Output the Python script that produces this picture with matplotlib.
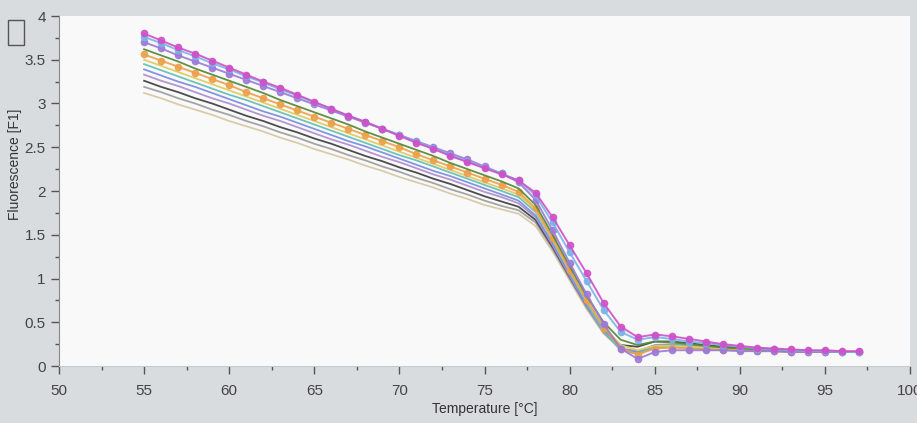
import matplotlib
matplotlib.use("Agg")
import matplotlib.pyplot as plt
from matplotlib.ticker import MultipleLocator, FormatStrFormatter
from matplotlib.patches import Rectangle

plt.rcParams['font.family'] = ['Liberation Sans', 'DejaVu Sans']

# Temperature grid (°C)
temperature = list(range(55, 98))

# Fluorescence curves (F1), one per sample
s_magenta = [3.80, 3.72, 3.64, 3.57, 3.49, 3.41, 3.33, 3.25, 3.18, 3.10, 3.02, 2.94, 2.86, 2.79, 2.71, 2.63, 2.55, 2.48, 2.40, 2.33, 2.26,
             2.19, 2.12, 1.98, 1.70, 1.38, 1.06, 0.72, 0.45, 0.33, 0.36, 0.34, 0.31, 0.28, 0.25, 0.23, 0.21, 0.20, 0.19, 0.18, 0.18, 0.17, 0.17]
s_lightblue = [3.76, 3.69, 3.61, 3.54, 3.46, 3.39, 3.31, 3.24, 3.16, 3.09, 3.01, 2.94, 2.86, 2.79, 2.71, 2.64, 2.56, 2.49, 2.41, 2.34, 2.27,
               2.20, 2.12, 1.95, 1.64, 1.30, 0.97, 0.64, 0.39, 0.30, 0.33, 0.31, 0.28, 0.26, 0.24, 0.22, 0.20, 0.19, 0.18, 0.17, 0.17, 0.16, 0.16]
s_violet = [3.70, 3.63, 3.55, 3.48, 3.41, 3.34, 3.27, 3.20, 3.13, 3.06, 2.99, 2.92, 2.85, 2.78, 2.71, 2.64, 2.57, 2.50, 2.43, 2.36, 2.28,
            2.20, 2.10, 1.90, 1.55, 1.18, 0.82, 0.48, 0.20, 0.08, 0.16, 0.18, 0.18, 0.18, 0.18, 0.17, 0.17, 0.17, 0.16, 0.16, 0.16, 0.16, 0.16]
s_green = [3.62, 3.55, 3.48, 3.40, 3.33, 3.26, 3.19, 3.12, 3.04, 2.97, 2.90, 2.83, 2.76, 2.68, 2.61, 2.54, 2.47, 2.40, 2.32, 2.25, 2.18,
           2.11, 2.03, 1.84, 1.50, 1.14, 0.80, 0.50, 0.30, 0.24, 0.28, 0.27, 0.25, 0.23, 0.21, 0.20, 0.19, 0.18, 0.17, 0.17, 0.16, 0.16, 0.16]
s_orange = [3.56, 3.49, 3.42, 3.35, 3.28, 3.21, 3.13, 3.06, 2.99, 2.92, 2.85, 2.78, 2.71, 2.64, 2.57, 2.50, 2.42, 2.35, 2.28, 2.21, 2.14,
            2.07, 1.99, 1.80, 1.46, 1.10, 0.76, 0.44, 0.20, 0.13, 0.20, 0.21, 0.20, 0.19, 0.18, 0.18, 0.17, 0.17, 0.16, 0.16, 0.16, 0.16, 0.16]
s_yellow = [3.50, 3.43, 3.36, 3.29, 3.22, 3.15, 3.08, 3.01, 2.94, 2.87, 2.80, 2.73, 2.66, 2.59, 2.52, 2.45, 2.38, 2.31, 2.24, 2.17, 2.10,
            2.03, 1.96, 1.78, 1.45, 1.09, 0.75, 0.45, 0.24, 0.18, 0.23, 0.23, 0.22, 0.21, 0.20, 0.19, 0.18, 0.17, 0.17, 0.16, 0.16, 0.16, 0.16]
s_teal = [3.45, 3.38, 3.31, 3.24, 3.17, 3.10, 3.04, 2.97, 2.90, 2.83, 2.76, 2.69, 2.62, 2.55, 2.48, 2.41, 2.35, 2.28, 2.21, 2.14, 2.07,
          2.00, 1.93, 1.76, 1.44, 1.08, 0.72, 0.40, 0.18, 0.14, 0.22, 0.24, 0.23, 0.22, 0.20, 0.19, 0.18, 0.18, 0.17, 0.17, 0.16, 0.16, 0.16]
s_blue = [3.39, 3.32, 3.25, 3.19, 3.12, 3.05, 2.98, 2.91, 2.85, 2.78, 2.71, 2.64, 2.57, 2.51, 2.44, 2.37, 2.30, 2.23, 2.17, 2.10, 2.03,
          1.96, 1.89, 1.72, 1.40, 1.05, 0.70, 0.40, 0.20, 0.16, 0.23, 0.24, 0.23, 0.21, 0.20, 0.19, 0.18, 0.17, 0.17, 0.16, 0.16, 0.16, 0.16]
s_purple = [3.33, 3.26, 3.20, 3.13, 3.06, 3.00, 2.93, 2.86, 2.80, 2.73, 2.66, 2.59, 2.53, 2.46, 2.39, 2.33, 2.26, 2.19, 2.13, 2.06, 1.99,
            1.93, 1.86, 1.70, 1.38, 1.03, 0.69, 0.39, 0.19, 0.14, 0.21, 0.22, 0.21, 0.20, 0.19, 0.18, 0.17, 0.17, 0.16, 0.16, 0.16, 0.16, 0.16]
s_black = [3.26, 3.19, 3.13, 3.06, 3.00, 2.93, 2.86, 2.80, 2.73, 2.67, 2.60, 2.54, 2.47, 2.40, 2.34, 2.27, 2.21, 2.14, 2.08, 2.01, 1.94,
           1.88, 1.82, 1.67, 1.36, 1.02, 0.69, 0.41, 0.24, 0.22, 0.28, 0.28, 0.26, 0.24, 0.22, 0.21, 0.20, 0.19, 0.18, 0.17, 0.17, 0.16, 0.16]
s_gray = [3.19, 3.13, 3.06, 3.00, 2.93, 2.87, 2.80, 2.74, 2.67, 2.61, 2.54, 2.48, 2.41, 2.35, 2.28, 2.22, 2.15, 2.09, 2.02, 1.96, 1.89,
          1.83, 1.78, 1.64, 1.34, 1.00, 0.67, 0.38, 0.20, 0.17, 0.24, 0.25, 0.24, 0.22, 0.21, 0.20, 0.19, 0.18, 0.17, 0.17, 0.16, 0.16, 0.16]
s_tan = [3.12, 3.06, 2.99, 2.93, 2.87, 2.80, 2.74, 2.68, 2.61, 2.55, 2.48, 2.42, 2.36, 2.29, 2.23, 2.16, 2.10, 2.04, 1.97, 1.91, 1.84,
         1.79, 1.74, 1.60, 1.31, 0.98, 0.65, 0.37, 0.19, 0.16, 0.22, 0.23, 0.22, 0.21, 0.20, 0.19, 0.18, 0.17, 0.17, 0.16, 0.16, 0.16, 0.16]

series = [
    (s_tan, '#d8c8a8', None),
    (s_gray, '#a0a0a0', None),
    (s_black, '#444444', None),
    (s_purple, '#b090d0', None),
    (s_blue, '#7f8fe0', None),
    (s_teal, '#66c0b8', None),
    (s_yellow, '#e0cc60', None),
    (s_orange, '#eda04a', 'o'),
    (s_green, '#5a8a3a', None),
    (s_violet, '#9c7ad8', 'o'),
    (s_lightblue, '#78b4e8', 'o'),
    (s_magenta, '#d050c8', 'o'),
]

x_ticks = [50, 55, 60, 65, 70, 75, 80, 85, 90, 95, 100]
y_ticks = [0, 0.5, 1, 1.5, 2, 2.5, 3, 3.5, 4]

fig = plt.figure(figsize=(9.17, 4.23), dpi=100, facecolor='#d8dcdf')
ax = fig.add_axes([59 / 917, 1 - 366 / 423, 851 / 917, 350 / 423])
ax.set_facecolor('#f9f9f9')

for vals, col, mk in series:
    if mk:
        ax.plot(temperature, vals, color=col, lw=1.4, marker=mk, ms=4.5,
                mfc=col, mec=col, alpha=0.9)
    else:
        ax.plot(temperature, vals, color=col, lw=1.3, alpha=0.95)

ax.set_xlim(50, 100)
ax.set_ylim(0, 4)
ax.set_xticks(x_ticks)
ax.set_xticklabels([str(t) for t in x_ticks])
ax.set_yticks(y_ticks)
ax.yaxis.set_major_formatter(FormatStrFormatter('%g'))
ax.xaxis.set_minor_locator(MultipleLocator(2.5))
ax.yaxis.set_minor_locator(MultipleLocator(0.25))
ax.tick_params(axis='both', which='major', direction='out', length=6, width=1,
               color='#555555', labelsize=11, labelcolor='#444444')
ax.tick_params(axis='both', which='minor', direction='out', length=3, width=1,
               color='#555555')
ax.tick_params(axis='x', which='major', pad=7)
for s in ['top', 'right']:
    ax.spines[s].set_visible(False)
ax.spines['left'].set_color('#888888')
ax.spines['bottom'].set_color('#c8cccf')

ax.set_xlabel('Temperature [°C]', fontsize=10, color='#333333', labelpad=3)
ax.set_ylabel('Fluorescence [F1]', fontsize=10, color='#333333')
ax.yaxis.set_label_coords(-0.044, 0.575)

# small toolbar icon at the top-left corner
fig.patches.append(Rectangle((8 / 917, 1 - 45 / 423), 16 / 917, 25 / 423,
                             transform=fig.transFigure, fill=False,
                             ec='#555555', lw=1))

fig.savefig('out.png', dpi=100, facecolor=fig.get_facecolor())
